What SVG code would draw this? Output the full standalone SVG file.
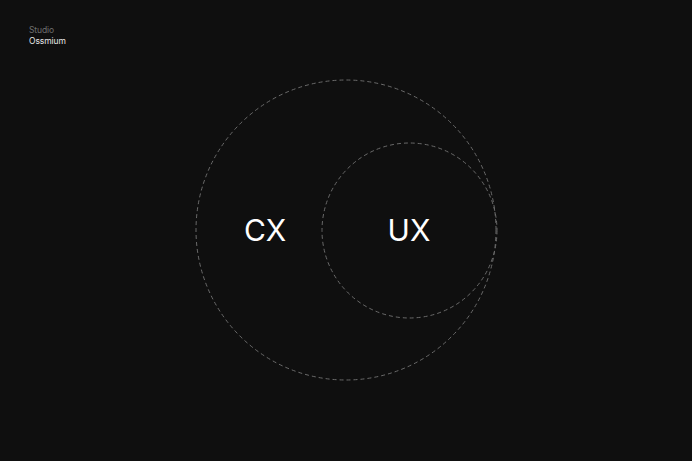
<svg xmlns="http://www.w3.org/2000/svg" width="692" height="461" viewBox="0 0 692 461">
<style>
.ring{fill:none;stroke:#6a6a6a;stroke-width:1;stroke-dasharray:4 3}
.big{font-family:Inter,"Liberation Sans",sans-serif;font-size:30px;fill:#ffffff;text-anchor:middle}
.meta{font-family:Inter,"Liberation Sans",sans-serif;font-size:8.5px;letter-spacing:-0.1px}
</style>
<rect width="692" height="461" fill="#0f0f0f"/>
<g id="header">
<text class="meta" x="29" y="33" fill="#6e6e6e">Studio</text>
<text class="meta" x="29" y="44" fill="#e6e6e6">Ossmium</text>
</g>
<g id="cx">
<circle class="ring" cx="346" cy="230" r="150"/>
<text class="big" x="265" y="241">CX</text>
</g>
<g id="ux">
<circle class="ring" cx="409.5" cy="230.5" r="87.5"/>
<text class="big" x="409" y="241">UX</text>
</g>
</svg>
